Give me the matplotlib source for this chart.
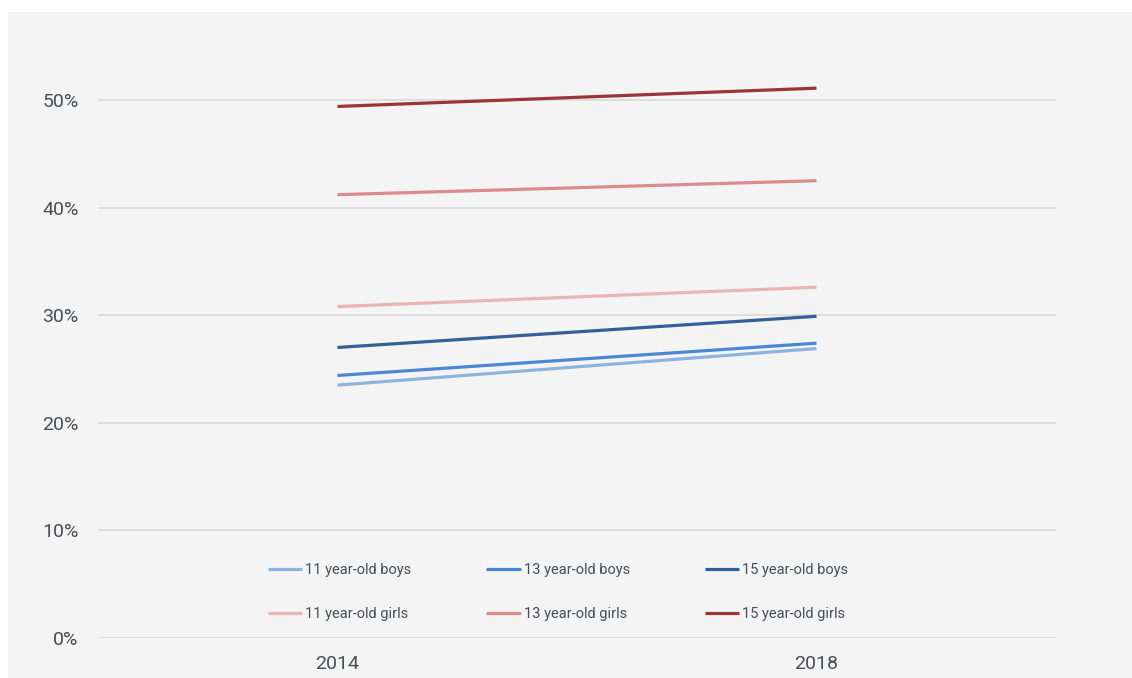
import matplotlib
matplotlib.use('Agg')
import matplotlib.pyplot as plt
from matplotlib.patches import Rectangle
from matplotlib.ticker import PercentFormatter

plt.rcParams['font.family'] = ['Roboto', 'DejaVu Sans']

years = ['2014', '2018']
series = ['11 year-old boys', '13 year-old boys', '15 year-old boys',
          '11 year-old girls', '13 year-old girls', '15 year-old girls']
boys_11 = [23.5, 26.9]
boys_13 = [24.4, 27.4]
boys_15 = [27.0, 29.9]
girls_11 = [30.8, 32.6]
girls_13 = [41.2, 42.5]
girls_15 = [49.4, 51.1]
values = [boys_11, boys_13, boys_15, girls_11, girls_13, girls_15]
colors = ['#8fb3df', '#4c87d3', '#335f98', '#e8b5b4', '#d98c8b', '#9b3434']

bg = '#f4f4f4'
text_color = '#474f57'

fig = plt.figure(figsize=(11.32, 6.78), dpi=100)
fig.patch.set_facecolor(bg)
# thin white strips along the top and left edges
fig.patches.append(Rectangle((0, 1 - 12 / 678), 1, 12 / 678,
                             transform=fig.transFigure, facecolor='white',
                             edgecolor='none', zorder=-10))
fig.patches.append(Rectangle((0, 0), 8 / 1132, 1,
                             transform=fig.transFigure, facecolor='white',
                             edgecolor='none', zorder=-10))

ax = fig.add_axes([98 / 1132, 1 - 638 / 678, 958 / 1132, 591.8 / 678])
ax.set_facecolor(bg)

x = range(len(years))
lines = []
for name, vals, c in zip(series, values, colors):
    ln, = ax.plot(x, vals, color=c, lw=2.3, label=name, solid_capstyle='butt', zorder=3)
    lines.append(ln)

ax.set_xlim(-0.5, 1.5)
ax.set_ylim(0, 55)
ax.set_yticks([0, 10, 20, 30, 40, 50])
ax.yaxis.set_major_formatter(PercentFormatter(decimals=0))
ax.set_xticks(list(x))
ax.set_xticklabels(years)
ax.grid(axis='y', color='#d9d9d9', lw=1.2, zorder=1)
ax.set_axisbelow(True)
for s in ax.spines.values():
    s.set_visible(False)
ax.tick_params(axis='both', length=0, colors=text_color, labelsize=14)
ax.tick_params(axis='y', pad=14)
ax.tick_params(axis='x', pad=12)

# legend fills column by column, so interleave boys/girls to get rows
order = [0, 3, 1, 4, 2, 5]
ax.legend([lines[i] for i in order], [series[i] for i in order],
          ncol=3, loc='upper left', bbox_to_anchor=(0.1775, 0.127),
          frameon=False, fontsize=10.5, labelcolor=text_color,
          handlelength=2.35, handletextpad=0.2, columnspacing=5.15,
          labelspacing=2.05, borderpad=0, borderaxespad=0)

plt.savefig('out.png', dpi=100, facecolor=fig.get_facecolor())
